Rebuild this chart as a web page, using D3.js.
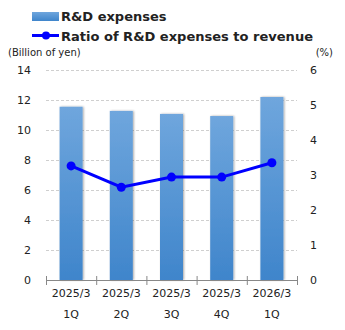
<!DOCTYPE html>
<html>
<head>
<meta charset="utf-8">
<script src="https://cdn.jsdelivr.net/npm/d3@7"></script>
<style>
  body { margin: 0; background: #fff; }
  text { font-family: "DejaVu Sans", Verdana, sans-serif; fill: #222; }
</style>
</head>
<body>
<svg id="chart" width="345" height="330"></svg>
<script>
const periods = ["2025/3", "2025/3", "2025/3", "2025/3", "2026/3"];
const quarters = ["1Q", "2Q", "3Q", "4Q", "1Q"];
const expenses = [11.55, 11.27, 11.07, 10.93, 12.2];
const ratio = [3.26, 2.65, 2.94, 2.94, 3.35];
const leftTicks = [0, 2, 4, 6, 8, 10, 12, 14];
const rightTicks = [0, 1, 2, 3, 4, 5, 6];

const margin = {top: 70, left: 46, right: 48, bottom: 50},
    width = 345 - margin.left - margin.right,
    height = 330 - margin.top - margin.bottom;

const svg = d3.select("#chart");
const g = svg.append("g")
    .attr("transform", "translate(" + margin.left + "," + margin.top + ")");

const keys = periods.map(function (d, i) { return i; });

const xScale = d3.scaleBand()
    .domain(keys)
    .range([0, width]);

const yLeft = d3.scaleLinear().domain([0, 14]).range([height, 0]);
const yRight = d3.scaleLinear().domain([0, 6]).range([height, 0]);

// gradient for bars
const defs = svg.append("defs");
const grad = defs.append("linearGradient")
    .attr("id", "barGrad")
    .attr("x1", 0).attr("y1", 0).attr("x2", 0).attr("y2", 1);
grad.append("stop").attr("offset", "0%").attr("stop-color", "#6fa6dd");
grad.append("stop").attr("offset", "100%").attr("stop-color", "#3f85cb");

const shadow = defs.append("filter").attr("id", "shadow")
    .attr("x", "-30%").attr("y", "-5%").attr("width", "160%").attr("height", "110%");
shadow.append("feGaussianBlur").attr("in", "SourceAlpha").attr("stdDeviation", 1.2);
shadow.append("feOffset").attr("dx", 1).attr("dy", 0).attr("result", "b");
shadow.append("feComponentTransfer").append("feFuncA").attr("type", "linear").attr("slope", 0.35);
const merge = shadow.append("feMerge");
merge.append("feMergeNode");
merge.append("feMergeNode").attr("in", "SourceGraphic");

// grid lines
g.append("g")
    .selectAll("line")
    .data(leftTicks.filter(function (d) { return d > 0; }))
    .enter()
    .append("line")
    .attr("x1", 0)
    .attr("x2", width)
    .attr("y1", function (d) { return yLeft(d) + 0.5; })
    .attr("y2", function (d) { return yLeft(d) + 0.5; })
    .attr("stroke", "#cfcfcf")
    .attr("stroke-dasharray", "3,2");

// left axis labels
g.append("g")
    .selectAll("text")
    .data(leftTicks)
    .enter()
    .append("text")
    .attr("x", -15)
    .attr("y", function (d) { return yLeft(d) + 4; })
    .attr("text-anchor", "end")
    .style("font-size", "11px")
    .text(function (d) { return d; });

// right axis labels
g.append("g")
    .selectAll("text")
    .data(rightTicks)
    .enter()
    .append("text")
    .attr("x", width + 13)
    .attr("y", function (d) { return yRight(d) + 4; })
    .attr("text-anchor", "start")
    .style("font-size", "11px")
    .text(function (d) { return d; });

// bars
const barW = 23;
g.append("g")
    .selectAll("rect")
    .data(expenses)
    .enter()
    .append("rect")
    .attr("x", function (d, i) { return xScale(i) + xScale.bandwidth() / 2 - barW / 2; })
    .attr("y", function (d) { return yLeft(d); })
    .attr("width", barW)
    .attr("height", function (d) { return height - yLeft(d); })
    .attr("fill", "url(#barGrad)")
    .attr("filter", "url(#shadow)");

// x axis
const xAxis = g.append("g").attr("transform", "translate(0," + height + ")");
xAxis.append("line")
    .attr("x1", 0).attr("x2", width)
    .attr("y1", 0.5).attr("y2", 0.5)
    .attr("stroke", "#888");
xAxis.selectAll("line.tick")
    .data(d3.range(keys.length + 1))
    .enter()
    .append("line")
    .attr("class", "tick")
    .attr("x1", function (d) { return d * xScale.step() + 0.5; })
    .attr("x2", function (d) { return d * xScale.step() + 0.5; })
    .attr("y1", -4).attr("y2", 5)
    .attr("stroke", "#888");
xAxis.selectAll("text.per")
    .data(periods)
    .enter()
    .append("text")
    .attr("class", "per")
    .attr("x", function (d, i) { return xScale(i) + xScale.bandwidth() / 2; })
    .attr("y", 17)
    .attr("text-anchor", "middle")
    .style("font-size", "11px")
    .text(function (d) { return d; });
xAxis.selectAll("text.q")
    .data(quarters)
    .enter()
    .append("text")
    .attr("class", "q")
    .attr("x", function (d, i) { return xScale(i) + xScale.bandwidth() / 2; })
    .attr("y", 38)
    .attr("text-anchor", "middle")
    .style("font-size", "11px")
    .text(function (d) { return d; });

// ratio line
const line = d3.line()
    .x(function (d, i) { return xScale(i) + xScale.bandwidth() / 2; })
    .y(function (d) { return yRight(d); });

g.append("path")
    .datum(ratio)
    .attr("d", line)
    .attr("fill", "none")
    .attr("stroke", "#0000ff")
    .attr("stroke-width", 3);

g.append("g")
    .selectAll("circle")
    .data(ratio)
    .enter()
    .append("circle")
    .attr("cx", function (d, i) { return xScale(i) + xScale.bandwidth() / 2; })
    .attr("cy", function (d) { return yRight(d); })
    .attr("r", 4.5)
    .attr("fill", "#0000ff");

// unit labels
svg.append("text")
    .attr("x", 8).attr("y", 56)
    .style("font-size", "10px")
    .text("(Billion of yen)");
svg.append("text")
    .attr("x", 333).attr("y", 56)
    .attr("text-anchor", "end")
    .style("font-size", "10px")
    .text("(%)");

// legend
svg.append("rect")
    .attr("x", 32).attr("y", 12)
    .attr("width", 27).attr("height", 9)
    .attr("fill", "url(#barGrad)");
svg.append("text")
    .attr("x", 61).attr("y", 21)
    .style("font-size", "13px")
    .style("font-weight", "bold")
    .text("R&D expenses");
svg.append("line")
    .attr("x1", 32).attr("x2", 59)
    .attr("y1", 35.5).attr("y2", 35.5)
    .attr("stroke", "#0000ff")
    .attr("stroke-width", 3);
svg.append("circle")
    .attr("cx", 46).attr("cy", 35.5).attr("r", 4)
    .attr("fill", "#0000ff");
svg.append("text")
    .attr("x", 61).attr("y", 41)
    .style("font-size", "13px")
    .style("font-weight", "bold")
    .attr("textLength", 252)
    .attr("lengthAdjust", "spacingAndGlyphs")
    .text("Ratio of R&D expenses to revenue");
</script>
</body>
</html>
